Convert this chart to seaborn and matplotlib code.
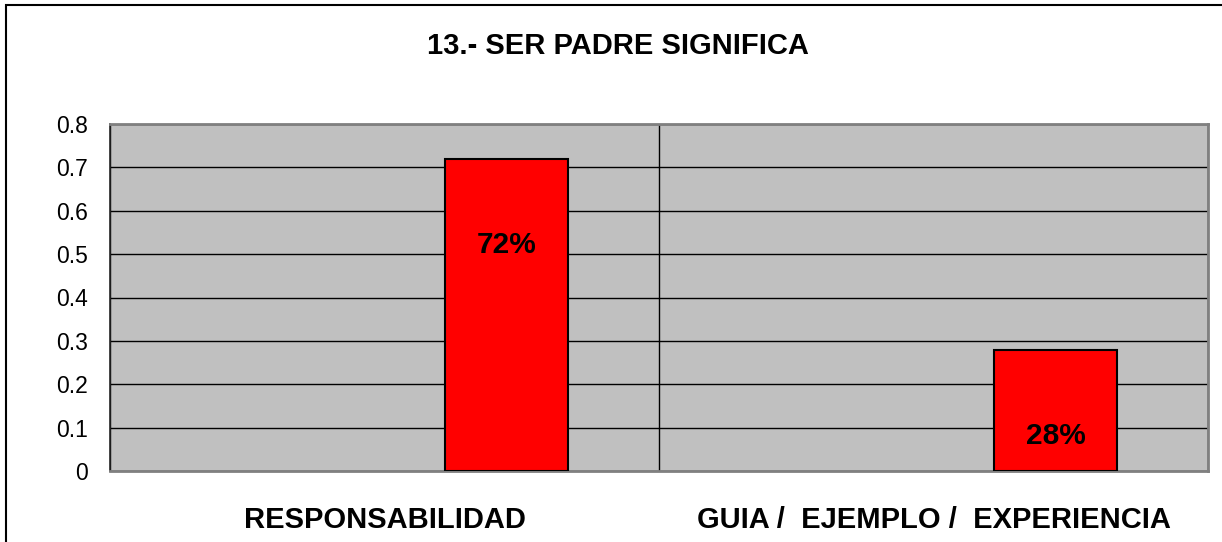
import numpy as np
import pandas as pd
import seaborn as sns
import matplotlib.pyplot as plt
from matplotlib.patches import Rectangle

# chart data
categories = ['RESPONSABILIDAD', 'GUIA /  EJEMPLO /  EXPERIENCIA']
values = [0.72, 0.28]
labels = ['72%', '28%']
title = '13.- SER PADRE SIGNIFICA'
y_ticks = [0, 0.1, 0.2, 0.3, 0.4, 0.5, 0.6, 0.7, 0.8]

sns.set_style('white', {'axes.facecolor': '#C0C0C0', 'text.color': 'black',
                        'xtick.color': 'black', 'ytick.color': 'black'})
plt.rcParams['font.family'] = ['Liberation Sans', 'DejaVu Sans']

df = pd.DataFrame({'cat': categories, 'val': values})

fig = plt.figure(figsize=(12.22, 5.42), dpi=100)
ax = fig.add_axes([110 / 1222, 71 / 542, 1098 / 1222, 347 / 542])

bar_w = 0.224
ax = sns.barplot(x='cat', y='val', data=df, color='#FF0000', width=bar_w,
                 edgecolor='black', linewidth=1.5, saturation=1, ax=ax, zorder=3)
# bars sit in the right half of each category slot
for p in ax.patches:
    p.set_x(p.get_x() + 0.222)

for i, (v, lab) in enumerate(zip(values, labels)):
    ax.text(i + 0.222, v - 0.2, lab, ha='center', va='center',
            fontsize=21.5, fontweight='bold', color='black', zorder=4)

ax.set_xlim(-0.5, 1.5)
ax.set_ylim(0, 0.8)
ax.set_yticks(y_ticks)
ax.set_yticklabels(['0' if t == 0 else f'{t:.1f}' for t in y_ticks], fontsize=16.5)

# category boundaries as ticks/grid, names on minor ticks
ax.set_xticks([-0.5, 0.5, 1.5])
ax.set_xticklabels([])
ax.set_xticks([0, 1], minor=True)
ax.set_xticklabels(categories, minor=True, fontsize=21, fontweight='bold')
ax.tick_params(axis='x', which='minor', length=0, pad=25, labelcolor='black')
ax.tick_params(axis='x', which='major', direction='out', length=10, width=1, color='#222222')
ax.tick_params(axis='y', direction='out', length=8, width=1, color='#333333', pad=8,
               labelcolor='black')
ax.set_xlabel('')
ax.set_ylabel('')

ax.grid(True, axis='both', which='major', color='black', linewidth=1, zorder=0)
ax.set_axisbelow(True)

for side in ['top', 'right', 'bottom']:
    ax.spines[side].set_color('#808080')
    ax.spines[side].set_linewidth(2)
    ax.spines[side].set_visible(True)
ax.spines['left'].set_color('#222222')
ax.spines['left'].set_linewidth(1.2)
ax.spines['left'].set_visible(True)

fig.text(618 / 1222, 1 - 46 / 542, title, ha='center', va='center',
         fontsize=21, fontweight='bold', color='black')

fig.patches.append(Rectangle((6 / 1222, -0.1), 1.1, 1.1 - 5 / 542,
                             transform=fig.transFigure, fill=False,
                             edgecolor='black', linewidth=1.5))

fig.savefig('out.png', dpi=100)
